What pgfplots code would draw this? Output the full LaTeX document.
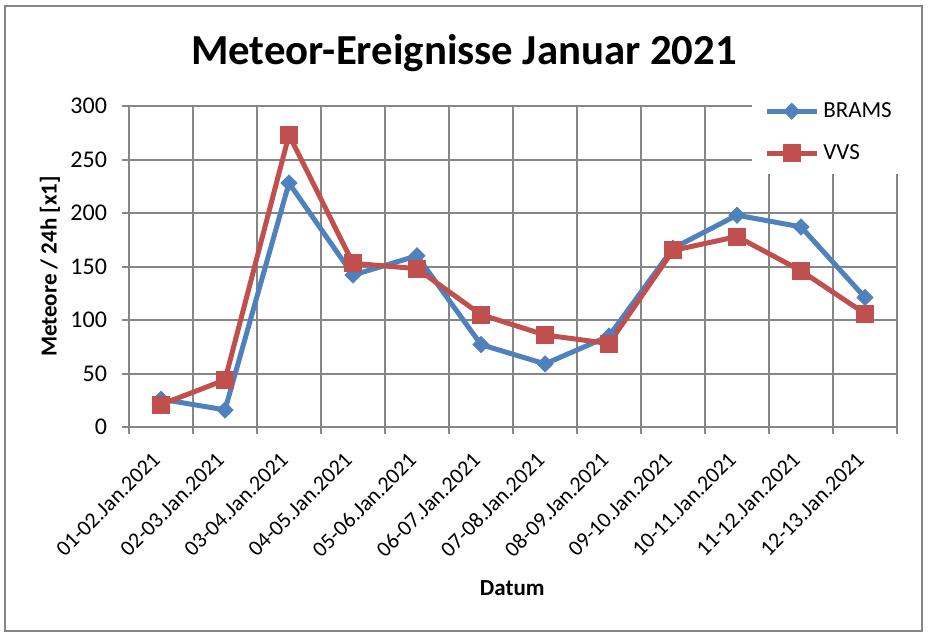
\documentclass[border=0pt]{standalone}
\usepackage{fontspec}
\setmainfont{Carlito}
\usepackage{pgfplots}
\pgfplotsset{compat=1.18}
\definecolor{gridgray}{RGB}{134,134,134}
\definecolor{bramsblue}{RGB}{79,129,189}
\definecolor{vvsred}{RGB}{192,80,77}
\begin{document}
\begin{tikzpicture}
\path[use as bounding box] (-64.5pt,-105pt) rectangle (400pt,213.5pt);
\begin{axis}[
  at={(0,0)}, anchor=south west,
  scale only axis, width=384pt, height=160.5pt,
  xmin=-0.5, xmax=11.5, ymin=0, ymax=300,
  axis x line=bottom, axis y line=left,
  axis line style={-, draw=gridgray, line width=1pt},
  xtick={0,...,11},
  xticklabels={01-02.Jan.2021,02-03.Jan.2021,03-04.Jan.2021,04-05.Jan.2021,05-06.Jan.2021,06-07.Jan.2021,07-08.Jan.2021,08-09.Jan.2021,09-10.Jan.2021,10-11.Jan.2021,11-12.Jan.2021,12-13.Jan.2021},
  minor xtick={-0.5,0.5,...,11.5},
  ytick={0,50,...,300},
  tick align=outside,
  major tick length=3.5pt, minor tick length=3.5pt,
  x tick style={draw=none},
  minor x tick style={draw=gridgray, line width=1pt},
  y tick style={draw=gridgray, line width=1pt},
  xmajorgrids=false, xminorgrids=true, ymajorgrids=true,
  minor x grid style={draw=gridgray, line width=1pt},
  major y grid style={draw=gridgray, line width=1pt},
  /pgf/number format/assume math mode=true,
  yticklabel style={font=\fontsize{12}{14}\selectfont, xshift=-4pt},
  xticklabel style={font=\fontsize{11}{13}\selectfont, rotate=45, anchor=north east, xshift=-6pt, yshift=1pt},
  xlabel={Datum},
  xlabel style={at={(axis description cs:0.499,-0.5016)}, anchor=center, font=\fontsize{11.5}{13}\selectfont\bfseries},
  ylabel={Meteore / 24h [x1]},
  ylabel style={at={(axis description cs:-0.103,0.5)}, anchor=center, font=\fontsize{11.5}{13}\selectfont\bfseries},
  legend style={at={(axis description cs:0.811,1.05)}, anchor=north west,
    fill=white, draw=none, inner xsep=6pt, inner ysep=4pt,
    font=\fontsize{11.5}{13}\selectfont, row sep=8pt},
  legend cell align=left,
  legend image code/.code={\draw[mark repeat=2,mark phase=2,#1] plot coordinates {(0pt,0pt) (12.5pt,0pt) (25pt,0pt)};},
]
\addplot[bramsblue, line width=2.5pt, mark=square*, mark size=2.8pt, mark options={solid, rotate=45, line width=0.5pt, fill=bramsblue}]
  coordinates {(0,26) (1,16) (2,228) (3,142) (4,160) (5,77) (6,59) (7,85) (8,167) (9,198) (10,187) (11,121)};
\addlegendentry{BRAMS}
\addplot[vvsred, line width=2.5pt, mark=square*, mark size=4.25pt, mark options={solid, line width=0.5pt, fill=vvsred}]
  coordinates {(0,21) (1,44) (2,273) (3,153) (4,148) (5,105) (6,86) (7,78) (8,165) (9,178) (10,146) (11,106)};
\addlegendentry{VVS}
\end{axis}
\draw[gridgray, line width=1pt] (-62pt,-102pt) rectangle (396.5pt,210.5pt);
\node[anchor=base, font=\fontsize{21.4}{25}\selectfont\bfseries] at (167.5pt,181pt) {Meteor-Ereignisse Januar 2021};
\end{tikzpicture}
\end{document}
